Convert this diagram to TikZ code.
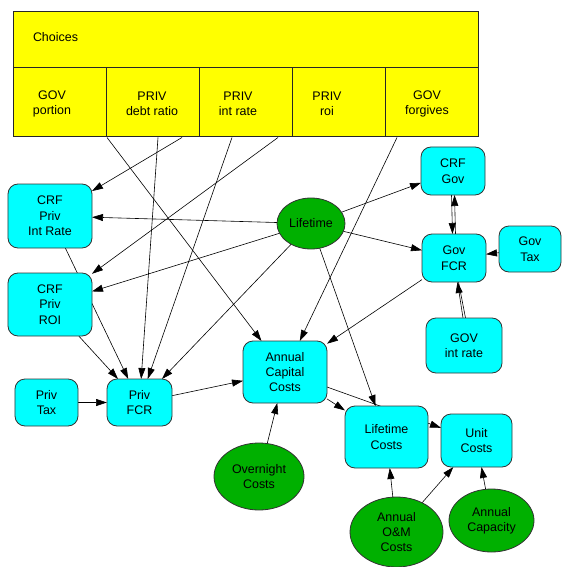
\documentclass[tikz,border=0pt]{standalone}
\usepackage{fontspec}
\setmainfont{Liberation Sans}
\usetikzlibrary{arrows.meta,shapes.geometric,backgrounds}
\definecolor{cy}{RGB}{0,255,255}
\definecolor{yl}{RGB}{255,255,0}
\definecolor{gr}{RGB}{0,176,0}
\begin{document}
\begin{tikzpicture}[x=1bp,y=-1bp,
 every node/.style={font=\fontsize{12.5}{15.5}\selectfont, align=center, inner sep=0pt, outer sep=0pt},
 var/.style={draw=black!80, fill=cy, rounded corners=10bp, line width=0.8bp},
 chance/.style={ellipse, draw=black!80, fill=gr, line width=0.8bp},
 choice/.style={draw=black!85, fill=yl, line width=1bp},
 arr/.style={-{Triangle[length=11bp,width=7bp]}, line width=0.6bp},
 ln/.style={line width=0.6bp},
]
\useasboundingbox (0,0) rectangle (562,567);

% Choices module
\node[choice, minimum width=464bp, minimum height=56bp] (chtop) at (246,40) {};
\node[anchor=west] (chtxt) at (33,37) {Choices};
\node[choice, minimum width=92bp, minimum height=69bp] (gpb) at (60,102.5) {};
\node[choice, minimum width=93bp, minimum height=69bp] (pdb) at (152.5,102.5) {};
\node[choice, minimum width=93bp, minimum height=69bp] (pib) at (245.5,102.5) {};
\node[choice, minimum width=93bp, minimum height=69bp] (prb) at (338.5,102.5) {};
\node[choice, minimum width=93bp, minimum height=69bp] (gfb) at (431.5,102.5) {};
\node (gpt) at (52,104) {GOV\\portion};
\node (pdt) at (152,104) {PRIV\\debt ratio};
\node (pit) at (238,104) {PRIV\\int rate};
\node (prt) at (327,104) {PRIV\\roi};
\node (gft) at (427,104) {GOV\\forgives};

\coordinate (c1) at (107,137.5);
\coordinate (c2) at (158,137.5);
\coordinate (c3) at (182,137.5);
\coordinate (c4) at (232,137.5);
\coordinate (c5) at (278,137.5);
\coordinate (c6) at (397,137.5);

% variables
\node[var, minimum width=84bp, minimum height=64bp] (cpir) at (50,216) {CRF\\Priv\\Int Rate};
\node[var, minimum width=84bp, minimum height=63bp] (cpro) at (50,304.5) {CRF\\Priv\\ROI};
\node[var, minimum width=63bp, minimum height=47bp] (ptax) at (46.5,402.5) {Priv\\Tax};
\node[var, minimum width=65bp, minimum height=47bp] (pfcr) at (139.5,402.5) {Priv\\FCR};
\node[var, minimum width=84bp, minimum height=62bp] (acc) at (285,372) {Annual\\Capital\\Costs};
\node[var, minimum width=83bp, minimum height=62bp] (ltc) at (386.5,437) {Lifetime\\Costs};
\node[var, minimum width=71bp, minimum height=53bp] (unit) at (476.5,440.5) {Unit\\Costs};
\node[var, minimum width=64bp, minimum height=48bp] (crfg) at (453,171) {CRF\\Gov};
\node[var, minimum width=64bp, minimum height=48bp] (gfcr) at (454,258) {Gov\\FCR};
\node[var, minimum width=62bp, minimum height=46bp] (gtax) at (530,249) {Gov\\Tax};
\node[var, minimum width=76bp, minimum height=55bp] (gir) at (464,345.5) {GOV\\int rate};

% chance
\node[chance, minimum width=68bp, minimum height=51bp] (life) at (311,223.5) {Lifetime};
\node[chance, minimum width=90bp, minimum height=67bp] (over) at (259,476.5) {Overnight\\Costs};
\node[chance, minimum width=93bp, minimum height=70bp] (aom) at (396.5,532) {Annual\\O\&M\\Costs};
\node[chance, minimum width=85bp, minimum height=63bp] (acap) at (491.5,520.5) {Annual\\Capacity};

\begin{scope}[on background layer]
\draw[arr] (c1) -- (acc);
\draw[arr] (c2) -- (pfcr);
\draw[arr] (c3) -- (cpir);
\draw[arr] (c4) -- (pfcr);
\draw[arr] (c5) -- (cpro);
\draw[arr] (c6) -- (acc);
\draw[arr] (life) -- (cpir);
\draw[arr] (life) -- (cpro);
\draw[arr] (life) -- (pfcr);
\draw[arr] (life) -- (crfg);
\draw[arr] (life) -- (gfcr);
\draw[arr] (life) -- (ltc);
\draw[arr] (cpir) -- (pfcr);
\draw[arr] (cpro) -- (pfcr);
\draw[arr] (ptax) -- (pfcr);
\draw[arr] (pfcr) -- (acc);
\draw[arr] (over) -- (acc);
\draw[arr] (gfcr) -- (acc);
\draw[arr] (acc) -- (ltc);
\draw[arr] (acc) -- (unit);
\draw[arr] (aom) -- (ltc);
\draw[arr] (aom) -- (unit);
\draw[arr] (acap) -- (unit);
\draw[arr] (gtax) -- (gfcr);
\draw[arr] ([xshift=-1.5bp]crfg.south) -- ([xshift=-1.5bp]gfcr.north);
\draw[arr] ([xshift=1.5bp]gfcr.north) -- ([xshift=1.5bp]crfg.south);
\draw[arr] ([xshift=-1bp]gir.north) -- ([xshift=3.5bp]gfcr.south);
\draw[ln] ([xshift=1.5bp]gir.north) -- ([xshift=4.5bp]gfcr.south);
\end{scope}
\end{tikzpicture}
\end{document}
